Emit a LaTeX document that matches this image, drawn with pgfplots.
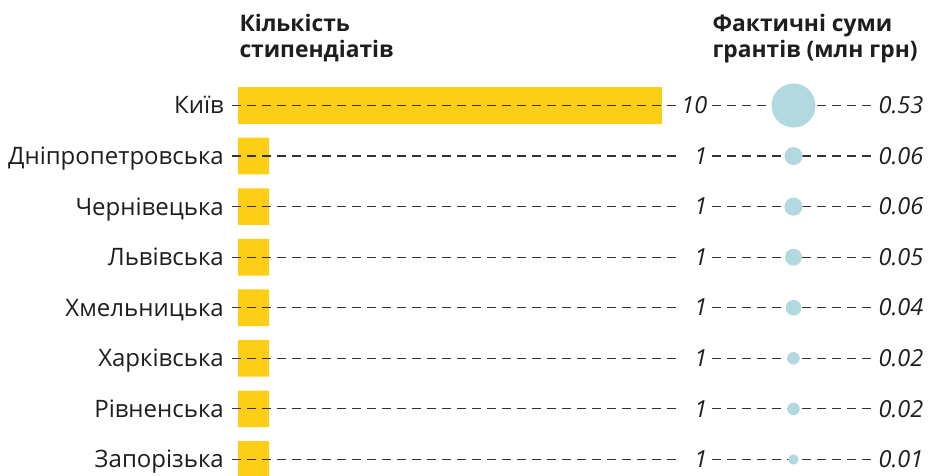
\documentclass[border=0pt]{standalone}
\usepackage{fontspec}
\setmainfont{Open Sans}
\usepackage{pgfplots}
\pgfplotsset{compat=1.18}
\usepackage{pgfplotstable}
\definecolor{baryellow}{HTML}{FDCE16}
\definecolor{circblue}{HTML}{B3D9E0}
\definecolor{dashgray}{HTML}{333333}
\definecolor{txt}{HTML}{1E1E1E}

\pgfplotstableread{
name count sum
Київ 10 0.53
Дніпропетровська 1 0.06
Чернівецька 1 0.06
Львівська 1 0.05
Хмельницька 1 0.04
Харківська 1 0.02
Рівненська 1 0.02
Запорізька 1 0.01
}\data

\begin{document}
\begin{tikzpicture}
\pgfplotsset{
  rows/.style={
    scale only axis, height=475pt,
    ymin=-2.0866, ymax=7.308, y dir=reverse,
    hide axis,
  },
  dashline/.style={draw=dashgray, line width=1.2pt, dash pattern=on 8.5pt off 6.5pt, mark=none},
}
% bars
\begin{axis}[rows, at={(238pt,-475pt)}, anchor=south west,
  width=445.8pt, xmin=0.285, xmax=10.5]
\addplot[xbar, bar width=36.7pt, fill=baryellow, draw=none]
  table[x=count, y expr=\coordindex] {\data};
\end{axis}
% everything else
\begin{axis}[rows, at={(0pt,-475pt)}, anchor=south west,
  width=928pt, xmin=0, xmax=928, clip=false]
% circles
\addplot[only marks, mark=*, scatter,
  mark options={draw opacity=0, fill=circblue},
  scatter/use mapped color={draw opacity=0, fill=circblue},
  visualization depends on={2.5+26.8*sqrt(\thisrow{sum}) \as \rad},
  scatter/@pre marker code/.append style={/tikz/mark size=\rad pt}]
  table[x expr=793.5, y expr=\coordindex] {\data};
% dashed guide lines
\pgfplotsinvokeforeach{0,...,7}{
  \addplot[dashline] coordinates {(232,#1) (677,#1)};
  \addplot[dashline] coordinates {(712,#1) (872,#1)};
}
% category names
\addplot[draw=none, mark=none, nodes near coords, point meta=explicit symbolic,
  nodes near coords style={anchor=base east, inner sep=0pt, yshift=-8.4pt,
    font=\fontsize{24}{28}\selectfont, text=txt}]
  table[x expr=224, y expr=\coordindex, meta=name] {\data};
% counts
\addplot[draw=none, mark=none, nodes near coords, point meta=explicit symbolic,
  nodes near coords style={anchor=base east, inner sep=0pt, yshift=-8.2pt,
    font=\fontsize{23.5}{28}\selectfont\itshape, text=txt}]
  table[x expr=707.5, y expr=\coordindex, meta=count] {\data};
% sums
\addplot[draw=none, mark=none, nodes near coords, point meta=explicit symbolic,
  nodes near coords style={anchor=base east, inner sep=0pt, yshift=-8.2pt,
    font=\fontsize{23.5}{28}\selectfont\itshape, text=txt}]
  table[x expr=923.5, y expr=\coordindex, meta=sum] {\data};
\end{axis}
% headers
\begin{scope}[every node/.style={inner sep=0pt, text=txt, font=\fontsize{22.8}{26}\selectfont\bfseries}]
\node[anchor=base west] at (239.3pt,-31.7pt) {Кількість};
\node[anchor=base west] at (239.3pt,-57.5pt) {стипендіатів};
\node[anchor=base west] at (712.3pt,-31.7pt) {Фактичні суми};
\node[anchor=base west] at (712.3pt,-57.5pt) {грантів (млн грн)};
\end{scope}
\pgfresetboundingbox
\useasboundingbox (0,0) rectangle (928pt,-475pt);
\end{tikzpicture}
\end{document}
